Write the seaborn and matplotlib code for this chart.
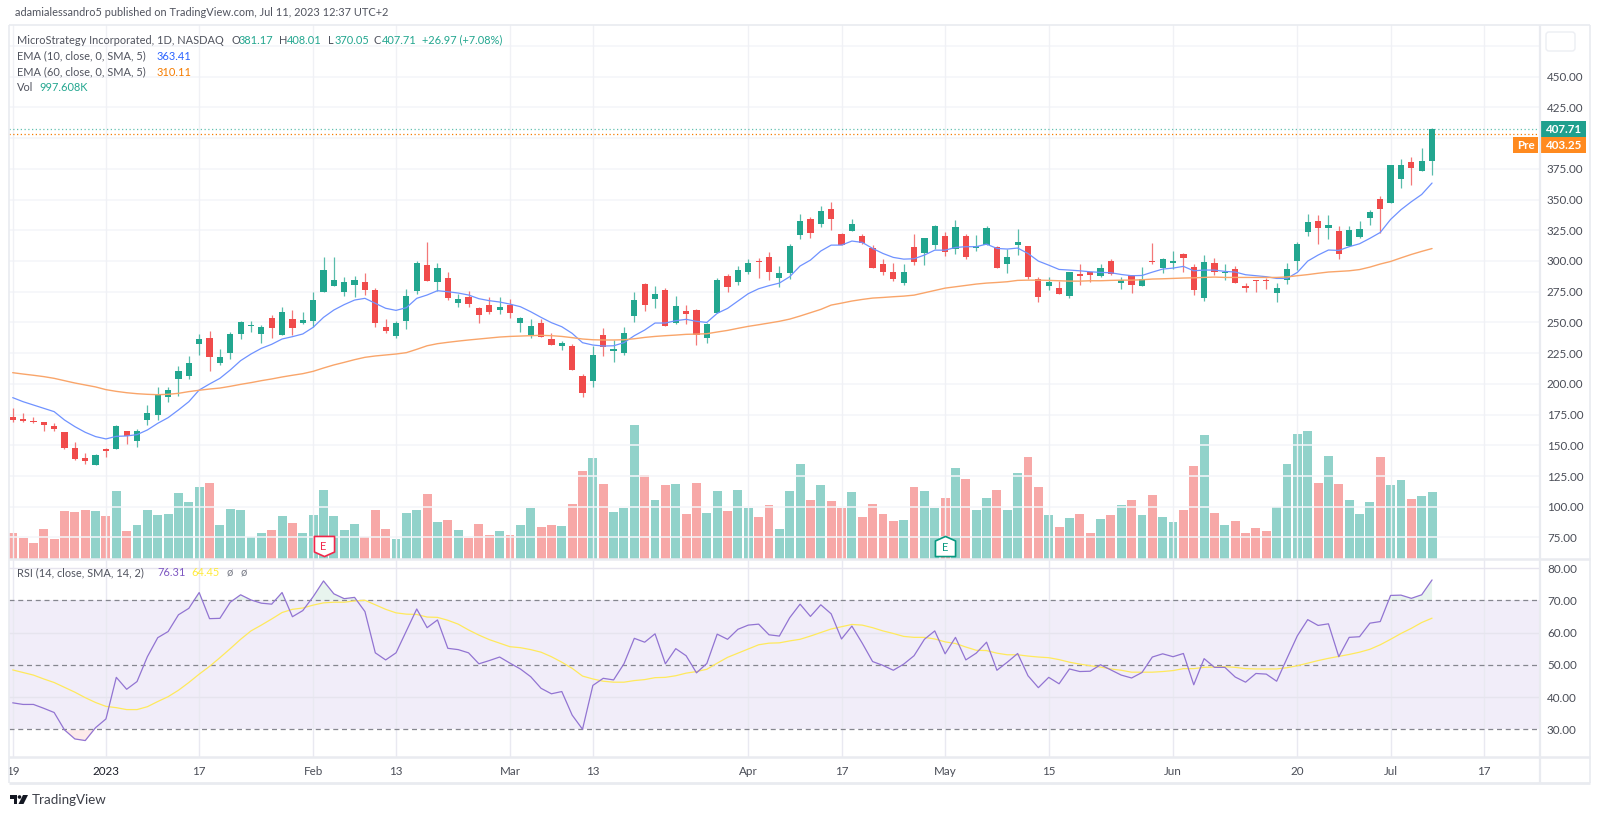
import numpy as np
import pandas as pd
import matplotlib
matplotlib.use('Agg')
import matplotlib.pyplot as plt
from matplotlib.patches import Rectangle, FancyBboxPatch, Circle, Polygon
from matplotlib.path import Path
import seaborn as sns

# daily candles
opens = [173.1, 171.4, 169.5, 169.0, 166.0, 160.9, 147.6, 139.7, 134.0, 147.0,
         147.3, 161.4, 153.5, 170.3, 175.0, 189.6, 204.2, 206.4, 232.4, 237.3,
         217.0, 224.9, 240.9, 247.1, 240.9, 253.3, 240.0, 252.5, 249.5, 250.9,
         274.8, 279.4, 274.8, 280.2, 282.6, 276.4, 246.6, 239.2, 250.9, 275.6,
         296.4, 283.1, 286.4, 266.0, 270.9, 261.7, 264.1, 260.1, 264.1, 249.2,
         239.7, 249.2, 236.5, 231.0, 231.0, 206.4, 202.6, 239.5, 227.0, 225.4,
         255.5, 280.9, 269.3, 276.3, 249.2, 259.5, 260.1, 237.3, 257.6, 287.7,
         283.1, 291.0, 299.9, 303.2, 286.1, 290.2, 321.4, 333.8, 330.0, 342.2,
         321.6, 324.6, 320.2, 310.2, 297.2, 291.0, 282.3, 311.0, 306.1, 313.2,
         320.2, 309.9, 320.2, 310.7, 313.2, 311.0, 297.7, 312.9, 311.8, 285.0,
         279.8, 277.9, 271.4, 289.3, 291.0, 287.7, 299.6, 282.3, 288.2, 279.8,
         300.2, 293.9, 298.5, 305.6, 294.7, 269.8, 298.5, 289.9, 293.1, 279.6,
         284.5, 284.2, 273.9, 284.5, 299.9, 323.8, 332.5, 326.8, 324.3, 311.8,
         319.7, 335.2, 350.4, 346.8, 366.9, 380.2, 372.9, 381.17]
closes = [170.9, 169.5, 169.0, 166.5, 163.6, 147.8, 138.9, 137.3, 142.1, 145.7,
          166.0, 157.3, 161.4, 176.0, 190.7, 195.0, 210.5, 217.3, 236.5, 221.9,
          221.9, 240.3, 250.3, 248.2, 246.3, 245.7, 258.8, 245.7, 252.0, 268.2,
          292.7, 284.8, 282.6, 284.2, 276.4, 249.5, 243.3, 249.5, 271.2, 298.6,
          283.9, 294.0, 270.1, 268.7, 265.2, 256.3, 258.7, 262.8, 257.9, 253.3,
          247.0, 237.8, 231.6, 233.2, 210.9, 192.8, 223.2, 229.7, 228.3, 241.1,
          267.9, 264.1, 273.4, 247.0, 263.3, 256.8, 239.5, 248.7, 284.2, 279.0,
          292.3, 298.0, 299.1, 291.0, 290.2, 312.4, 332.5, 323.0, 340.8, 333.8,
          312.9, 330.0, 314.5, 294.2, 291.0, 285.3, 291.0, 299.4, 318.6, 328.6,
          307.5, 327.8, 303.2, 312.4, 327.0, 294.2, 303.2, 315.6, 287.2, 270.9,
          282.8, 273.0, 291.0, 287.7, 288.5, 293.9, 289.3, 284.7, 280.6, 285.5,
          299.1, 301.5, 300.2, 302.3, 276.3, 298.8, 291.0, 291.0, 282.3, 277.7,
          283.6, 283.4, 277.7, 293.4, 313.5, 331.6, 326.8, 329.5, 305.3, 324.9,
          325.7, 340.0, 342.2, 377.7, 377.7, 375.8, 381.0, 407.71]
highs = [180.1, 176.3, 173.1, 169.0, 168.2, 161.0, 152.4, 143.5, 143.0, 147.6,
         166.8, 161.4, 163.0, 182.8, 197.2, 197.2, 214.5, 222.7, 240.6, 243.0,
         228.4, 241.9, 251.2, 251.2, 247.9, 255.8, 262.8, 259.8, 258.2, 274.5,
         303.5, 303.5, 286.7, 287.5, 290.5, 277.7, 252.8, 251.2, 277.2, 300.2,
         315.1, 298.0, 291.3, 273.1, 275.5, 262.8, 270.4, 270.4, 268.7, 254.4,
         252.5, 252.5, 241.1, 235.1, 232.1, 208.0, 230.8, 245.2, 235.7, 246.0,
         274.4, 282.0, 279.6, 278.0, 271.5, 264.1, 260.6, 249.2, 286.1, 289.1,
         295.9, 301.3, 302.1, 307.3, 295.9, 313.5, 338.2, 335.7, 344.6, 347.6,
         322.4, 334.1, 321.9, 312.9, 301.3, 298.0, 297.5, 321.9, 318.6, 329.2,
         323.5, 333.3, 321.9, 321.0, 328.6, 312.4, 309.4, 325.7, 311.8, 287.2,
         287.2, 283.4, 291.0, 297.2, 291.0, 297.2, 301.3, 287.2, 288.2, 294.7,
         314.3, 302.6, 308.0, 306.1, 297.2, 304.8, 302.6, 297.5, 295.8, 282.3,
         284.5, 286.4, 282.0, 298.0, 315.6, 338.2, 337.3, 337.3, 328.4, 328.4,
         332.5, 341.1, 352.8, 377.7, 383.2, 384.8, 391.8, 408.01]
lows = [169.3, 169.0, 167.9, 161.7, 161.9, 147.3, 138.1, 134.8, 134.0, 140.8,
        147.3, 151.1, 148.9, 166.5, 170.6, 185.5, 190.4, 204.2, 223.8, 210.8,
        215.4, 220.2, 236.8, 242.5, 233.0, 237.6, 240.0, 239.8, 248.4, 246.6,
        274.8, 279.4, 271.5, 270.7, 272.3, 246.3, 241.7, 237.6, 244.7, 273.1,
        283.9, 275.3, 268.2, 262.8, 262.2, 249.8, 256.8, 256.8, 253.8, 242.2,
        237.6, 237.8, 231.6, 227.5, 210.9, 189.6, 197.2, 222.9, 217.8, 223.7,
        250.0, 259.3, 261.4, 247.0, 248.4, 248.4, 231.3, 233.2, 257.6, 275.0,
        280.4, 289.1, 286.1, 284.5, 279.0, 285.6, 318.1, 318.9, 327.6, 325.1,
        312.9, 324.6, 314.0, 294.2, 288.2, 283.6, 280.6, 296.6, 296.9, 309.4,
        304.2, 305.6, 301.5, 308.3, 313.2, 294.2, 289.9, 305.0, 285.0, 266.8,
        276.6, 273.0, 270.1, 280.6, 283.1, 287.2, 288.5, 277.4, 273.9, 279.8,
        297.7, 289.9, 293.1, 291.2, 272.2, 267.6, 288.5, 284.5, 281.7, 275.0,
        275.0, 277.1, 266.8, 281.2, 292.6, 320.2, 313.7, 317.5, 301.3, 311.8,
        318.9, 328.9, 323.0, 346.8, 359.6, 361.7, 372.9, 370.05]

# volume in thousands
volumes = [389, 314, 235, 449, 304, 713, 698, 728, 713, 643,
           1012, 419, 504, 728, 658, 673, 992, 853, 1077, 1137,
           504, 743, 728, 334, 389, 434, 643, 544, 389, 658,
           1037, 643, 434, 519, 334, 728, 449, 304, 683, 728,
           968, 559, 584, 434, 314, 519, 359, 419, 359, 504,
           768, 484, 504, 489, 823, 1317, 1516, 1122, 703, 768,
           2000, 1252, 883, 1107, 1122, 673, 1137, 688, 1012, 713,
           1037, 768, 628, 808, 449, 1012, 1421, 883, 1107, 868,
           768, 997, 628, 823, 673, 574, 584, 1077, 1012, 768,
           913, 1361, 1197, 728, 913, 1037, 728, 1292,
           1531, 1077, 658, 474, 614, 673, 389, 598, 658, 808,
           883, 658, 953, 628, 559, 728, 1391, 1855, 683, 504,
           574, 389, 459, 419, 783, 1421, 1870, 1915, 1137, 1546,
           1122, 883, 673, 853, 1521, 1107, 1182, 898, 938, 997.608]

ema10 = [188.8, 185.5, 182.8, 180.1, 177.4, 170.6, 165.2, 160.6, 157.1, 155.2,
         157.3, 157.6, 158.7, 162.5, 167.9, 172.5, 178.8, 185.5, 195.0, 199.9,
         204.5, 211.3, 218.9, 224.3, 228.9, 232.2, 236.5, 238.4, 240.6, 246.0,
         254.1, 260.1, 264.5, 268.2, 269.6, 265.5, 261.5, 259.8, 262.0, 269.6,
         272.3, 275.8, 275.0, 273.9, 272.3, 269.3, 267.7, 266.6, 264.9, 262.8,
         258.7, 254.1, 249.8, 246.5, 241.1, 233.5, 231.6, 230.8, 231.0, 233.5,
         239.2, 243.8, 249.5, 249.5, 251.4, 252.5, 250.9, 250.0, 257.4, 261.4,
         267.4, 273.4, 277.4, 279.9, 282.0, 287.2, 295.9, 300.7, 308.1, 312.9,
         312.9, 316.2, 315.1, 310.2, 306.1, 302.9, 301.5, 301.8, 304.8, 308.8,
         308.8, 311.0, 311.6, 311.6, 313.7, 310.2, 309.7, 310.5, 306.1, 299.9,
         296.6, 293.1, 292.6, 292.0, 291.2, 290.7, 290.4, 289.0, 288.0, 288.2,
         290.9, 293.4, 294.2, 295.6, 292.0, 292.6, 292.6, 291.5, 291.0, 288.8,
         288.0, 287.2, 285.8, 285.8, 290.7, 299.9, 304.8, 308.9, 308.6, 311.6,
         314.0, 318.4, 323.2, 333.8, 341.7, 348.2, 354.1, 363.41]
ema60 = [209.1, 208.0, 207.0, 205.9, 204.5, 202.6, 200.7, 199.1, 197.5, 195.3,
         193.9, 192.8, 192.0, 191.5, 191.2, 191.5, 192.3, 193.7, 194.8, 195.8,
         196.6, 198.0, 199.6, 201.0, 202.6, 204.0, 205.6, 207.0, 208.3, 210.2,
         212.9, 215.4, 217.5, 219.7, 221.6, 222.7, 223.5, 224.3, 225.4, 228.1,
         231.0, 232.7, 233.8, 234.8, 235.7, 236.5, 237.3, 238.1, 238.6, 238.9,
         239.2, 239.5, 239.2, 238.6, 237.6, 236.5, 235.9, 235.7, 235.7, 235.9,
         236.7, 237.8, 238.6, 239.2, 239.7, 240.3, 240.5, 240.8, 242.2, 243.5,
         245.2, 246.8, 248.1, 249.5, 250.9, 252.7, 255.2, 257.9, 260.6, 264.1,
         265.7, 267.4, 268.7, 269.8, 270.3, 270.9, 271.4, 272.2, 274.1, 276.0,
         277.9, 279.0, 280.1, 281.2, 282.0, 282.5, 283.1, 284.2, 284.4, 284.4,
         284.2, 283.9, 283.6, 283.6, 283.9, 283.9, 284.2, 284.4, 284.4, 284.7,
         285.3, 285.5, 285.8, 286.1, 286.3, 286.6, 286.9, 286.6, 286.6, 286.6,
         286.6, 286.6, 286.6, 287.0, 288.0, 288.9, 290.0, 291.0, 291.5, 292.0,
         293.0, 295.0, 297.5, 299.6, 302.5, 305.3, 307.8, 310.11]

rsi = [38.2, 37.7, 37.7, 36.5, 35.2, 29.8, 27.0, 26.5, 30.5, 33.2,
       46.1, 42.4, 44.8, 52.5, 58.4, 60.3, 65.5, 67.5, 72.4, 64.3,
       64.4, 69.4, 71.7, 70.1, 69.1, 68.8, 72.4, 64.9, 66.8, 71.1,
       76.0, 72.0, 70.5, 70.9, 66.5, 53.7, 51.5, 53.7, 60.5, 67.3,
       61.5, 63.9, 55.1, 54.7, 53.7, 50.3, 51.3, 52.4, 50.5, 48.7,
       46.3, 42.7, 41.0, 41.7, 34.4, 30.0, 43.6, 45.8, 45.3, 50.3,
       58.2, 57.0, 59.6, 50.3, 55.0, 52.8, 47.5, 50.4, 59.5, 57.9,
       61.0, 62.3, 62.6, 59.3, 58.9, 64.6, 68.8, 65.0, 68.6, 65.8,
       58.0, 62.0, 56.7, 51.0, 49.8, 48.3, 50.2, 52.8, 57.9, 60.5,
       53.4, 58.5, 51.5, 53.6, 57.0, 48.3, 50.8, 53.5, 46.6, 42.9,
       46.1, 44.1, 48.7, 47.9, 48.0, 50.0, 48.4, 46.8, 45.9, 47.6,
       52.4, 53.4, 52.5, 53.5, 43.8, 51.9, 49.2, 49.2, 46.2, 44.6,
       47.3, 47.1, 44.9, 52.0, 59.0, 64.0, 62.2, 62.7, 52.5, 58.5,
       58.7, 62.9, 63.4, 71.5, 71.6, 70.6, 71.7, 76.31]
rsi_ma = [48.4, 47.6, 46.8, 45.6, 44.5, 43.0, 41.5, 39.8, 38.3, 37.1,
          36.7, 36.1, 36.1, 37.0, 38.6, 40.1, 42.1, 44.5, 47.1, 49.5,
          52.2, 55.0, 57.9, 60.5, 62.3, 64.2, 66.2, 67.2, 67.6, 68.5,
          69.2, 69.4, 69.4, 69.8, 70.0, 68.6, 67.2, 66.1, 65.7, 65.6,
          64.8, 64.7, 63.8, 62.6, 60.8, 59.2, 57.8, 56.7, 55.6, 55.3,
          54.7, 53.9, 52.5, 50.8, 48.9, 46.5, 45.6, 44.9, 44.6, 44.6,
          45.1, 45.4, 46.0, 46.1, 46.6, 47.4, 47.9, 48.6, 50.5, 52.3,
          53.6, 54.9, 56.2, 56.7, 56.8, 57.4, 57.9, 58.9, 60.0, 61.1,
          61.8, 62.5, 62.3, 61.5, 60.5, 59.7, 58.8, 58.5, 58.5, 58.0,
          57.1, 56.6, 55.5, 54.5, 54.4, 53.6, 53.1, 53.1, 52.7, 52.4,
          52.2, 51.6, 50.8, 50.2, 49.7, 49.3, 48.7, 48.3, 47.7, 47.7,
          47.7, 47.9, 48.2, 48.8, 48.8, 49.2, 49.3, 49.4, 49.2, 48.8,
          48.7, 48.7, 48.7, 49.1, 49.7, 50.5, 51.3, 52.0, 52.6, 53.2,
          53.9, 54.8, 56.2, 57.9, 59.7, 61.3, 63.1, 64.45]

tick_bars = [0, 9, 18, 29, 37, 48, 56, 71, 80, 90, 100, 112, 124, 133, 142]
tick_labels = ['19', '2023', '17', 'Feb', '13', 'Mar', '13', 'Apr', '17', 'May',
               '15', 'Jun', '20', 'Jul', '17']
price_ticks = [75, 100, 125, 150, 175, 200, 225, 250, 275, 300, 325, 350, 375, 425, 450]
price_grid = list(range(75, 500, 25))
rsi_ticks = [30, 40, 50, 60, 70, 80]

W, H = 1600, 817
LEFT, RIGHT, TOP, PANE, BOTTOM, END = 9, 1540, 25, 559, 757, 783
TEAL, RED = '#22a68f', '#f04b4b'
TEAL_VOL, RED_VOL = '#91d2ca', '#f7a8a7'
TEXT, GRID, FRAME = '#4a4d57', '#f4f5f9', '#e9ebf0'
FONT = 'Lato'
LABEL_SIZE, TICK_SIZE = 7.9, 8.4

sns.set_theme(style='white')
plt.rcParams['font.family'] = [FONT, 'DejaVu Sans']

df = pd.DataFrame({'bar': np.arange(len(opens)), 'open': opens, 'high': highs, 'low': lows,
                   'close': closes, 'vol': volumes, 'ema10': ema10, 'ema60': ema60,
                   'rsi': rsi, 'rsi_ma': rsi_ma})
df['side'] = np.where(df['close'] >= df['open'], 'up', 'down')
up = df['close'] >= df['open']


def pane(top, bottom):
    return [LEFT / W, 1 - bottom / H, (RIGHT - LEFT) / W, (bottom - top) / H]


xlim = (-0.357, 147.42)
fig = plt.figure(figsize=(16, 8.17), dpi=100, facecolor='white')

# volume sits behind the price pane
ax_vol = fig.add_axes(pane(TOP, PANE))
sns.barplot(data=df, x='bar', y='vol', hue='side', native_scale=True, dodge=False,
            palette={'up': TEAL_VOL, 'down': RED_VOL}, saturation=1, width=0.86,
            errorbar=None, legend=False, linewidth=0, ax=ax_vol, zorder=2)
ax_vol.set_xlim(*xlim)
ax_vol.set_ylim(0, 7989)
ax_vol.axis('off')

ax = fig.add_axes(pane(TOP, PANE), sharex=None)
ax.patch.set_alpha(0)
ax.set_xlim(*xlim)
ax.set_ylim(57.5, 492)
for p in price_grid:
    ax.axhline(p, color=GRID, lw=1.1, zorder=0)
for b in tick_bars:
    ax.axvline(b, color='#f0f1f5', lw=1, zorder=0)
ax_vol.set_zorder(2)
ax.set_zorder(3)

# candles
ax.vlines(df['bar'], df['low'], df['high'], colors=np.where(up, TEAL, RED), lw=0.9, alpha=0.75, zorder=3)
ax.bar(df['bar'], (df['close'] - df['open']).abs(), bottom=df[['open', 'close']].min(axis=1),
       width=0.6, color=np.where(up, TEAL, RED), linewidth=0, zorder=4)
sns.lineplot(data=df, x='bar', y='ema10', color='#6f92ff', lw=0.9, ax=ax, zorder=5)
sns.lineplot(data=df, x='bar', y='ema60', color='#f9a56a', lw=1.0, ax=ax, zorder=5)
ax.axhline(closes[-1], color=TEAL, lw=0.9, ls=(0, (1, 2)), alpha=0.7, zorder=2)
ax.axhline(403.25, color='#f57c00', lw=0.9, ls=(0, (1, 2)), zorder=2)

# earnings flags
flag_down = Path([(-1, 1), (1, 1), (1, -0.55), (0, -1), (-1, -0.55), (-1, 1)], closed=True)
flag_up = Path([(-1, -1), (1, -1), (1, 0.55), (0, 1), (-1, 0.55), (-1, -1)], closed=True)
ax.scatter([30], [68], marker=flag_down, s=210, facecolor='white', edgecolor='#f2274a', lw=1.2, zorder=6)
ax.text(30, 68, 'E', color='#f2274a', fontsize=8, ha='center', va='center', zorder=7)
ax.scatter([90], [68], marker=flag_up, s=210, facecolor='white', edgecolor='#089981', lw=1.2, zorder=6)
ax.text(90, 67, 'E', color='#089981', fontsize=8, ha='center', va='center', zorder=7)

ax.set_xlabel('')
ax.set_ylabel('')
ax.set_xticks([])
ax.yaxis.tick_right()
ax.set_yticks(price_ticks, [f'{p:.2f}' for p in price_ticks])
ax.tick_params(axis='y', length=0, pad=5, labelsize=TICK_SIZE, labelcolor=TEXT)
sns.despine(ax=ax, left=True, right=True, top=True, bottom=True)

# RSI pane
ax2 = fig.add_axes(pane(PANE, BOTTOM))
ax2.set_xlim(*xlim)
ax2.set_ylim(21.4, 82.8)
ax2.axhspan(30, 70, color='#f1edf9', lw=0, zorder=0)
for b in tick_bars:
    ax2.axvline(b, color='#e9e9f1', lw=1, zorder=1)
for r in [40, 60, 80]:
    ax2.axhline(r, color='#e6e4ee', lw=1, zorder=1)
for r in [70, 50, 30]:
    ax2.axhline(r, color='#85868f', lw=0.9, ls=(0, (4, 3)), zorder=2)
ax2.fill_between(df['bar'], df['rsi'], 70, where=df['rsi'] > 70, interpolate=True,
                 color='#e8f4ee', lw=0, zorder=1)
ax2.fill_between(df['bar'], df['rsi'], 30, where=df['rsi'] < 30, interpolate=True,
                 color='#fdeaea', lw=0, zorder=1)
sns.lineplot(data=df, x='bar', y='rsi_ma', color='#ffe95c', lw=0.9, ax=ax2, zorder=3)
sns.lineplot(data=df, x='bar', y='rsi', color='#9274d2', lw=0.9, ax=ax2, zorder=4)
ax2.set_xlabel('')
ax2.set_ylabel('')
ax2.set_xticks([])
ax2.yaxis.tick_right()
ax2.set_yticks(rsi_ticks, [f'{r:.2f}' for r in rsi_ticks])
ax2.tick_params(axis='y', length=0, pad=5, labelsize=TICK_SIZE, labelcolor=TEXT)
sns.despine(ax=ax2, left=True, right=True, top=True, bottom=True)

# time scale, the first label is cut by the frame
ax3 = fig.add_axes(pane(BOTTOM, END))
ax3.set_xlim(*xlim)
ax3.set_ylim(0, 1)
ax3.axis('off')
for b, lab in zip(tick_bars, tick_labels):
    ax3.text(b, 0.45, lab, ha='center', va='center', fontsize=TICK_SIZE, clip_on=True,
             color='#1c1f2a' if lab == '2023' else TEXT)

# frame and labels drawn in pixel coordinates on top
top = fig.add_axes([0, 0, 1, 1])
top.set_xlim(0, W)
top.set_ylim(H, 0)
top.axis('off')
top.patch.set_alpha(0)
top.set_zorder(10)
for x0, y0, x1, y1, lw in [(LEFT, TOP, 1590, TOP, 1.2), (LEFT, TOP, LEFT, END, 1.2), (1590, TOP, 1590, END, 1.2),
                           (LEFT, END, 1590, END, 2), (LEFT, BOTTOM, 1590, BOTTOM, 1.8),
                           (LEFT, PANE, 1590, PANE, 1.8), (RIGHT, TOP, RIGHT, END, 1.6)]:
    top.plot([x0, x1], [y0, y1], color=FRAME, lw=lw, solid_capstyle='butt')

top.add_patch(FancyBboxPatch((1546, 32), 29, 19, boxstyle='round,pad=0,rounding_size=3',
                             fc='white', ec='#eceef3', lw=1))
top.add_patch(Rectangle((1540, 121), 46, 16, fc='#1fa08e', lw=0))
top.text(1564, 129, '407.71', color='white', fontsize=TICK_SIZE, ha='center', va='center', fontweight='bold')
top.add_patch(Rectangle((1540, 137), 46, 16, fc='#ff8a1f', lw=0))
top.text(1564, 145, '403.25', color='white', fontsize=TICK_SIZE, ha='center', va='center', fontweight='bold')
top.add_patch(Rectangle((1513, 137), 25, 16, fc='#ff8a1f', lw=0))
top.text(1525.5, 145, 'Pre', color='white', fontsize=TICK_SIZE, ha='center', va='center', fontweight='bold')

top.text(15, 12, 'adamialessandro5 published on TradingView.com, Jul 11, 2023 12:37 UTC+2',
         fontsize=LABEL_SIZE, color='#50535e', va='center')

header = [(17, 'MicroStrategy Incorporated, 1D, NASDAQ', '#50535e'), (231, 'O', '#50535e'), (239, '381.17', TEAL),
          (279, 'H', '#50535e'), (287, '408.01', TEAL), (328, 'L', '#50535e'), (335, '370.05', TEAL),
          (374, 'C', '#50535e'), (382, '407.71', TEAL), (422, '+26.97 (+7.08%)', TEAL)]
for x, s, c in header:
    top.text(x, 40, s, fontsize=LABEL_SIZE, color=c, va='center')
for y, s, val, c in [(56, 'EMA (10, close, 0, SMA, 5)', '363.41', '#2962ff'),
                     (72, 'EMA (60, close, 0, SMA, 5)', '310.11', '#f57c00')]:
    top.text(17, y, s, fontsize=LABEL_SIZE, color='#50535e', va='center')
    top.text(157, y, val, fontsize=LABEL_SIZE, color=c, va='center')
top.text(17, 87, 'Vol', fontsize=LABEL_SIZE, color='#50535e', va='center')
top.text(39, 87, '997.608K', fontsize=LABEL_SIZE, color=TEAL, va='center')

top.text(17, 573, 'RSI (14, close, SMA, 14, 2)', fontsize=LABEL_SIZE, color='#50535e', va='center')
top.text(157, 573, '76.31', fontsize=LABEL_SIZE, color='#7e57c2', va='center')
top.text(191.5, 573, '64.45', fontsize=LABEL_SIZE, color='#ffeb3b', va='center')
top.text(227, 573, 'ø', fontsize=LABEL_SIZE, color='#787b86', va='center')
top.text(241, 573, 'ø', fontsize=LABEL_SIZE, color='#787b86', va='center')

# TradingView logo
logo = '#131722'
top.add_patch(Polygon([(10, 795), (17, 795), (17, 804), (13.5, 804), (13.5, 798.5), (10, 798.5)], fc=logo, lw=0))
top.add_patch(Circle((19.5, 797), 1.8, fc=logo, lw=0))
top.add_patch(Polygon([(23, 795), (28, 795), (23.5, 804), (18.5, 804)], fc=logo, lw=0))
top.text(32, 800, 'TradingView', fontsize=9.6, color='#3c3f48', va='center')

fig.savefig('out.png', dpi=100, facecolor='white')
